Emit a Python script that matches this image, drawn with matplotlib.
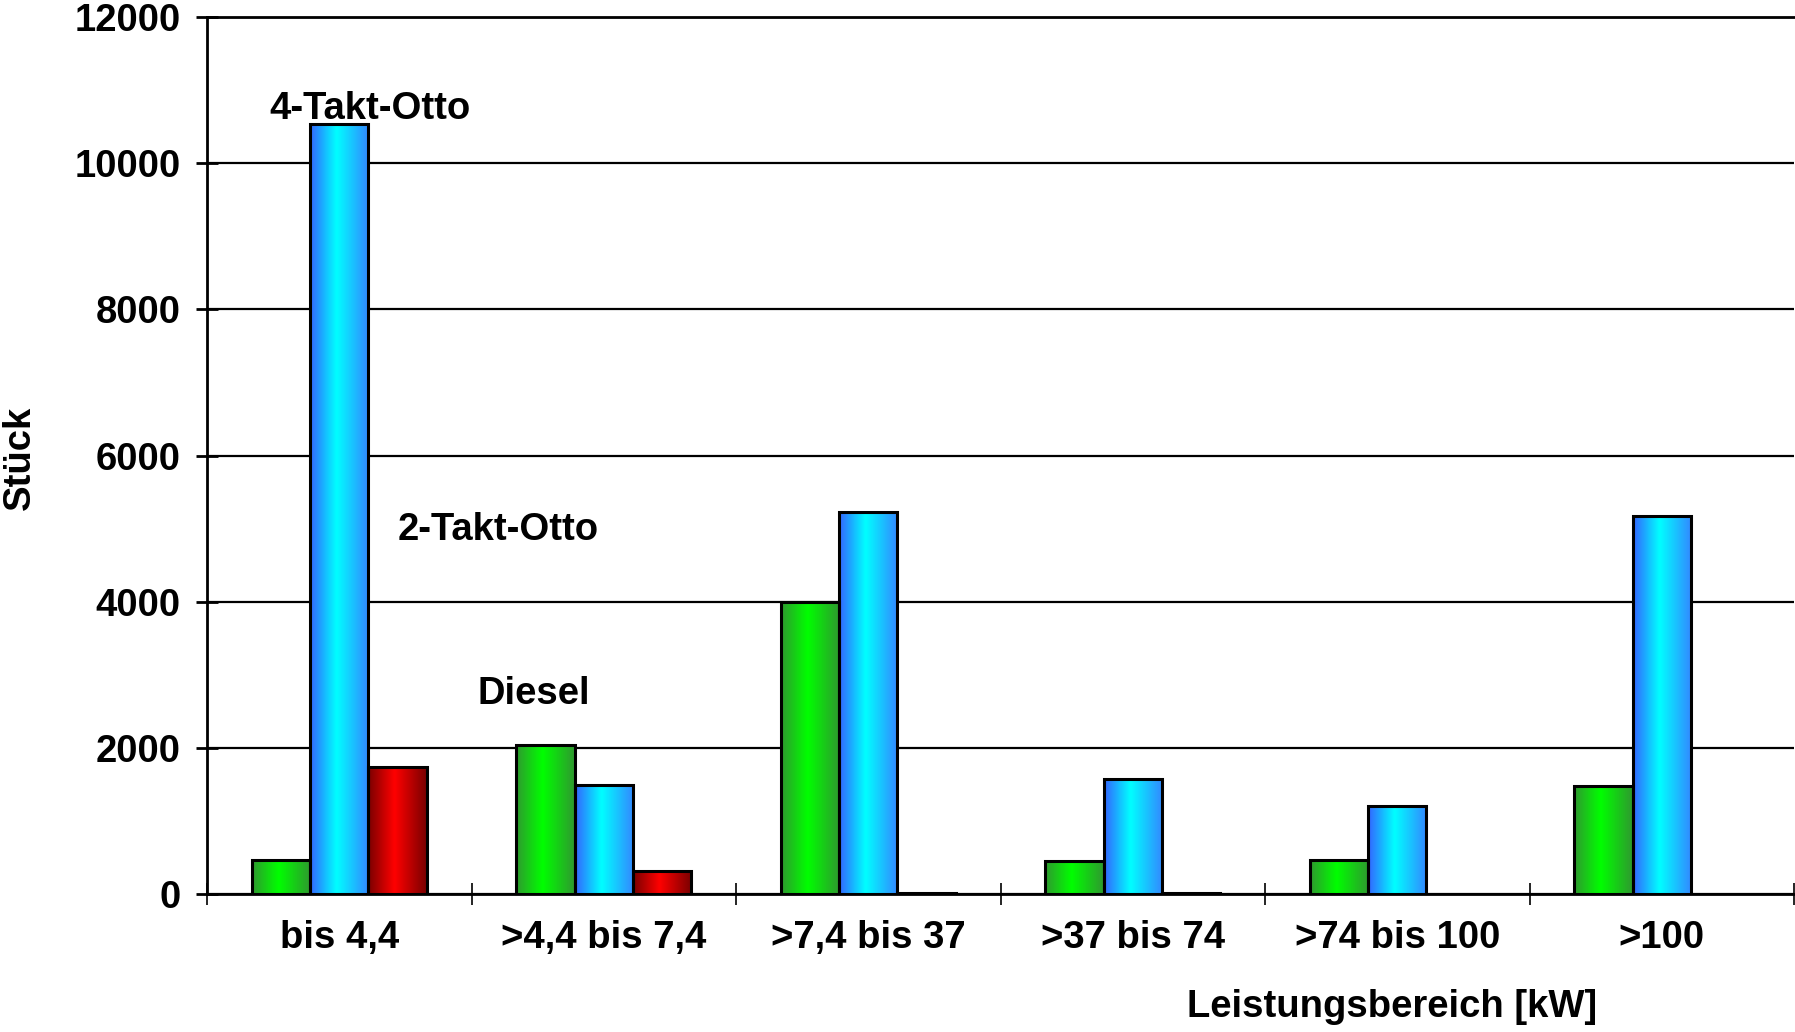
import numpy as np
import matplotlib
matplotlib.use("Agg")
import matplotlib.pyplot as plt
from matplotlib.colors import LinearSegmentedColormap

plt.rcParams['font.family'] = ['Liberation Sans', 'DejaVu Sans']
plt.rcParams['font.weight'] = 'bold'

# ---------------------------------------------------------------------------
# Data (Stück per Leistungsbereich)
# ---------------------------------------------------------------------------
categories = ["bis 4,4", ">4,4 bis 7,4", ">7,4 bis 37", ">37 bis 74", ">74 bis 100", ">100"]
diesel     = [470, 2040, 3990, 455, 470, 1475]
takt4_otto = [10540, 1490, 5230, 1580, 1205, 5170]
takt2_otto = [1740, 315, 20, 20, 0, 0]
y_ticks    = [0, 2000, 4000, 6000, 8000, 10000, 12000]

FS = 27.5

# colour ramps: dark edge -> bright centre -> dark edge
cmaps = [
    LinearSegmentedColormap.from_list("g", [(0, "#2f9a2f"), (0.45, "#00ff00"), (1, "#2f9a2f")]),
    LinearSegmentedColormap.from_list("b", [(0, "#3366ff"), (0.45, "#00ffff"), (1, "#3388ff")]),
    LinearSegmentedColormap.from_list("r", [(0, "#7a0000"), (0.45, "#ff0000"), (1, "#7a0000")]),
]

W, H = 1795, 1032
fig = plt.figure(figsize=(W / 100, H / 100), dpi=100)
ax = fig.add_axes([207 / W, (H - 894) / H, (1794 - 207) / W, 877 / H])

x = np.arange(len(categories))
bw = 0.22
grad = np.linspace(0, 1, 64).reshape(1, -1)

for i, (vals, cm) in enumerate(zip([diesel, takt4_otto, takt2_otto], cmaps)):
    pos = x + (i - 1) * bw
    bars = ax.bar(pos, vals, width=bw, facecolor="none", edgecolor="black",
                  linewidth=2.2, zorder=4)
    for b, v in zip(bars, vals):
        if v <= 0:
            b.set_visible(False)
            continue
        x0 = b.get_x()
        ax.imshow(grad, extent=[x0, x0 + bw, 0, v], aspect="auto", cmap=cm,
                  zorder=3, interpolation="bilinear")

ax.set_xlim(-0.5, len(categories) - 0.5)
ax.set_ylim(0, 12000)

ax.set_yticks(y_ticks)
ax.set_yticklabels([str(t) for t in y_ticks], fontsize=FS, fontweight="bold")
ax.yaxis.grid(True, color="black", linewidth=1.6, zorder=1)
ax.set_axisbelow(True)

ax.set_xticks(np.arange(len(categories) + 1) - 0.5)
ax.set_xticklabels([])
ax.set_xticks(x, minor=True)
ax.set_xticklabels(categories, minor=True, fontsize=FS, fontweight="bold")
ax.tick_params(axis="x", which="minor", length=0, pad=19)
ax.tick_params(axis="x", which="major", direction="inout", length=16, width=1.2)
ax.tick_params(axis="y", direction="inout", length=16, width=2, pad=11)

for s in ["left", "bottom", "top"]:
    ax.spines[s].set_linewidth(2)
ax.spines["right"].set_visible(False)

ax.text(-0.266, 10747, "4-Takt-Otto", fontsize=FS, fontweight="bold", va="center", zorder=5)
ax.text(0.219, 4982, "2-Takt-Otto", fontsize=FS, fontweight="bold", va="center", zorder=5)
ax.text(0.522, 2742, "Diesel", fontsize=FS, fontweight="bold", va="center", zorder=5)

fig.text(20 / W, 1 - 458 / H, "Stück", rotation=90, fontsize=FS, fontweight="bold",
         ha="center", va="center")
fig.text(1392 / W, 1 - 1007 / H, "Leistungsbereich [kW]", fontsize=FS, fontweight="bold",
         ha="center", va="center")

fig.savefig("out.png", dpi=100)
